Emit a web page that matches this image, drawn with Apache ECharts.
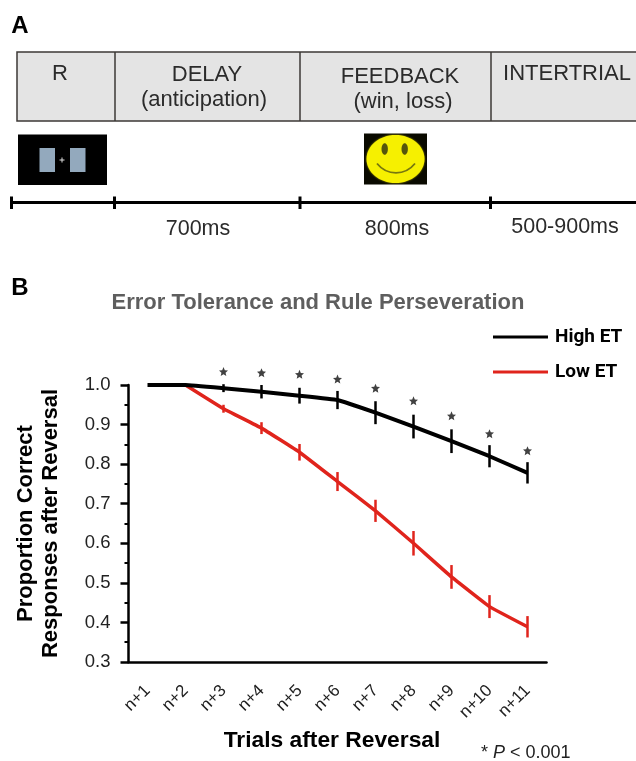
<!DOCTYPE html>
<html>
<head>
<meta charset="utf-8">
<style>html,body{margin:0;padding:0;background:#fff}#c{width:636px;height:761px}</style>
<script src="https://cdn.jsdelivr.net/npm/echarts@6/dist/echarts.min.js"></script>
</head>
<body>
<div id="c"></div>
<script>
const categories = ['n+1','n+2','n+3','n+4','n+5','n+6','n+7','n+8','n+9','n+10','n+11'];
const highET = [1.0,1.0,0.992,0.983,0.973,0.962,0.93,0.895,0.858,0.82,0.778];
const lowET = [null,1.0,0.94,0.891,0.83,0.756,0.682,0.60,0.515,0.44,0.389];
const highErr = [null,null,0.01,0.017,0.02,0.023,0.029,0.03,0.03,0.028,0.027];
const lowErr = [null,null,0.01,0.015,0.021,0.024,0.028,0.031,0.03,0.029,0.027];
const starLevels = [null,null,1.034,1.031,1.027,1.015,0.992,0.96,0.922,0.877,0.834];
const yTicks = ['0.3','0.4','0.5','0.6','0.7','0.8','0.9','1.0'];
const phases = ['R','DELAY','(anticipation)','FEEDBACK','(win, loss)','INTERTRIAL'];
const durations = ['700ms','800ms','500-900ms'];

const FONT = '"Liberation Sans", Arial, sans-serif';
const DARK = '#3c3836';
const RED = '#e0241c';

function txt(text, x, y, size, extra) {
  return { type:'text', x:x, y:y, silent:true, style:Object.assign({
    text:text, fontFamily:FONT, fontSize:size, fill:'#2b2b2b', align:'center', verticalAlign:'middle'
  }, extra||{}) };
}
function seg(x1,y1,x2,y2,color,w){
  return { type:'line', silent:true, shape:{x1,y1,x2,y2}, style:{stroke:color,lineWidth:w} };
}
function box(x,y,w,h,fill,stroke){
  return { type:'rect', silent:true, shape:{x,y,width:w,height:h}, style:{fill:fill,stroke:stroke||null,lineWidth:stroke?1:0} };
}

const graphicEls = [
  txt('A',20,26,24,{fontWeight:'bold',fill:'#000'}),
  txt('B',20,288,24,{fontWeight:'bold',fill:'#000'}),
  // trial-structure strip
  { type:'rect', silent:true, shape:{x:17,y:52,width:625,height:69}, style:{fill:'#e4e4e4',stroke:DARK,lineWidth:1.5} },
  seg(115,52,115,121,DARK,1.5), seg(300,52,300,121,DARK,1.5), seg(491,52,491,121,DARK,1.5),
  txt(phases[0],60,74,22),
  txt(phases[1],207,75,22),
  txt(phases[2],204,100,22),
  txt(phases[3],400,77,22),
  txt(phases[4],403,102,22),
  txt(phases[5],567,74,22),
  // stimulus picture
  box(18,134.5,89,50.5,'#000'),
  box(39.5,148,15.5,24,'#93a9bd'),
  box(70,148,15.5,24,'#93a9bd'),
  seg(59.5,160,64.5,160,'#ddd',1), seg(62,157.5,62,162.5,'#ddd',1),
  // smiley picture
  box(364,133.5,63,51,'#0a0a00'),
  { type:'ellipse', silent:true, shape:{cx:395.5,cy:159,rx:29,ry:24}, style:{fill:'#f6f000',shadowColor:'#b8b000',shadowBlur:2} },
  { type:'ellipse', silent:true, shape:{cx:384.7,cy:149,rx:3.2,ry:5.8}, style:{fill:'#55550c'} },
  { type:'ellipse', silent:true, shape:{cx:404.7,cy:149,rx:3.2,ry:5.8}, style:{fill:'#55550c'} },
  { type:'bezierCurve', silent:true, shape:{x1:377,y1:163.5,cpx1:387,cpy1:176,cpx2:405,cpy2:176,x2:415,y2:163.5}, style:{stroke:'#77770f',lineWidth:1.8,fill:null} },
  // timeline
  seg(11,202.5,636,202.5,'#000',3),
  seg(11.5,196.5,11.5,209,'#000',3), seg(114.5,196.5,114.5,209,'#000',3),
  seg(300,196.5,300,209,'#000',3), seg(490.5,196.5,490.5,209,'#000',3),
  txt(durations[0],198,229,21.5),
  txt(durations[1],397,229,21.5),
  txt(durations[2],565,227,21.5),
  // significance note
  { type:'text', x:481, y:753, silent:true, style:{
    text:'{a|* }{i|P}{a| < 0.001}', verticalAlign:'middle', align:'left',
    rich:{ a:{fontFamily:FONT,fontSize:18,fill:'#222'}, i:{fontFamily:FONT,fontSize:18,fontStyle:'italic',fill:'#222'} }
  } }
];

const errSeries = (name, means, errs, color) => ({
  type:'custom', name:name, silent:true, z:3,
  data: means.map((m,i)=> errs[i]==null ? [i,null,null] : [i,m,errs[i]]),
  encode:{x:0,y:1},
  renderItem:(p,api)=>{
    if(api.value(2)==null || isNaN(api.value(2))) return null;
    const a=api.coord([api.value(0),api.value(1)-api.value(2)]);
    const b=api.coord([api.value(0),api.value(1)+api.value(2)]);
    return {type:'line',shape:{x1:a[0],y1:a[1],x2:b[0],y2:b[1]},style:{stroke:color,lineWidth:2.5}};
  }
});

const chart = echarts.init(document.getElementById('c'),null,{renderer:'canvas',width:636,height:761});
chart.setOption({
  animation:false,
  backgroundColor:'#fff',
  textStyle:{fontFamily:FONT},
  title:{ text:'Error Tolerance and Rule Perseveration', left:'center', top:291.5, padding:0,
    textStyle:{fontFamily:FONT,fontSize:22,fontWeight:'bold',color:'#5e5e5e'} },
  legend:{ show:true, data:['High ET','Low ET'], orient:'vertical', left:488, top:322.5, selectedMode:false,
    itemWidth:55, itemHeight:3, itemGap:16, icon:'rect',
    textStyle:{fontFamily:'Roboto, '+FONT,fontSize:19,fontWeight:'bold',color:'#000',padding:[0,0,0,2]} },
  grid:{ left:128.5, top:385, width:418, height:277, containLabel:false },
  xAxis:{ type:'category', data:categories, boundaryGap:true,
    name:'Trials after Reversal', nameLocation:'middle', nameGap:67,
    nameTextStyle:{fontFamily:FONT,fontSize:22.8,fontWeight:'bold',color:'#000',padding:[0,11,0,0]},
    axisLine:{lineStyle:{color:'#000',width:2.5}},
    axisTick:{alignWithLabel:true,length:8,lineStyle:{color:'#000',width:2.5}},
    axisLabel:{rotate:45,fontSize:17,color:'#222',margin:26,interval:0,fontFamily:FONT},
    splitLine:{show:false}
  },
  yAxis:{ type:'value', min:0.3, max:1.0, interval:0.1,
    name:'Proportion Correct\nResponses after Reversal', nameLocation:'middle', nameGap:65.5, nameRotate:90,
    nameTextStyle:{fontFamily:FONT,fontSize:22,fontWeight:'bold',color:'#000',lineHeight:25},
    axisLine:{show:true,lineStyle:{color:'#000',width:2.5}},
    axisTick:{show:true,length:8,lineStyle:{color:'#000',width:2.5}},
    minorTick:{show:true,splitNumber:2,length:4,lineStyle:{color:'#000',width:2}},
    axisLabel:{fontSize:18.5,color:'#222',margin:18,fontFamily:FONT,
      formatter:(v)=>yTicks[Math.round((v-0.3)*10)]},
    splitLine:{show:false}
  },
  series:[
    { type:'line', name:'Low ET', data:lowET, showSymbol:false, smooth:0.08, connectNulls:false,
      itemStyle:{color:RED}, lineStyle:{color:RED,width:3.5}, z:2 },
    { type:'line', name:'High ET', data:highET, showSymbol:false, smooth:0.08,
      itemStyle:{color:'#000'}, lineStyle:{color:'#000',width:4}, z:3 },
    errSeries('Low ET err', lowET, lowErr, RED),
    errSeries('High ET err', highET, highErr, '#000'),
    { type:'scatter', name:'significance', data:starLevels, symbol:'path://M50 0 L64 32 L98 35 L72 58 L80 92 L50 74 L20 92 L28 58 L2 35 L36 32 Z',
      symbolSize:9, itemStyle:{color:'#111'}, silent:true, clip:false, z:4 }
  ],
  graphic:{ elements:graphicEls }
});
</script>
</body>
</html>
